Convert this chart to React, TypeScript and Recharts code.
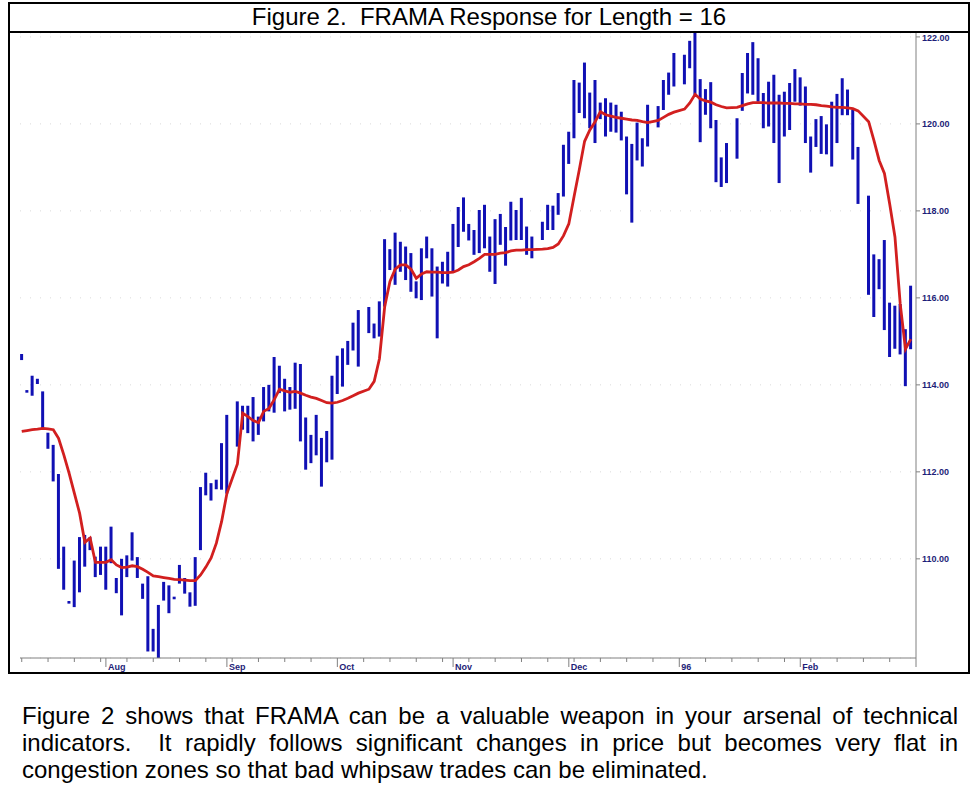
import { ComposedChart, Bar, Line, XAxis, YAxis, CartesianGrid } from "recharts"

// daily T-bond bars, Jul 10 1995 .. Feb 29 1996 (null = market holiday)
const highs = [
  114.71, 113.88, 114.21, 114.14, 113.85, 112.9, 112.62, 111.95, 110.28, 109.03,
  109.96, 110.5, 110.55, 110.5, 110.05, 110.28, 110.28, 110.74, 109.56, 110.0,
  110.08, 110.61, 110.04, 109.43, 109.6, 108.39, 108.94, 109.47, 109.39, 109.13,
  109.86, 109.56, 109.23, 110.04, 111.65, 111.98, 111.74, 111.82, 112.66, 113.31,
  null, 113.62, 113.52, 113.52, 113.72, 113.27, 113.95, 114.0, 114.64, 114.44,
  114.14, 113.95, 114.51, 114.48, 113.25, 112.85, 113.31, 112.78, 112.94, 114.21,
  114.67, 114.84, 115.01, 115.43, 115.72, null, 115.79, 115.41, 115.92, 117.35,
  117.12, 117.5, 117.29, 117.18, 117.03, 116.38, 117.14, 117.41, 117.14, 116.72,
  116.83, 117.06, 117.7, 118.09, 118.31, 117.7, 117.56, 118.02, 118.14, 117.41,
  117.81, 117.93, 117.63, 118.21, 118.02, 118.3, 117.64, 117.41, null, 117.75,
  118.14, 118.12, 118.41, 119.52, 119.82, 121.01, 120.95, 121.41, 120.72, 121.01,
  120.49, 120.59, 120.49, 120.44, 120.28, 119.71, 119.54, 120.03, 119.67, 120.44,
  null, 120.41, 121.01, 121.18, 121.63, null, 121.59, 121.91, 122.09, 121.03,
  120.8, 120.96, 120.09, 119.23, 119.56, null, 120.13, 121.17, 121.63, 121.88,
  121.51, 120.71, 120.97, 121.13, 120.67, 120.74, 120.94, 121.26, 121.07, 120.86,
  119.71, 120.11, 120.18, 119.99, 120.51, 120.69, 121.05, 120.79, 120.33, 119.47,
  null, 118.35, 117.0, 116.89, 117.33, 115.89, 115.82, 115.86, 115.28, 116.28,
]

const lows = [
  114.57, 113.82, 113.75, 114.02, 113.0, 112.53, 111.78, 109.77, 109.29, 108.97,
  108.89, 109.23, 109.82, 110.2, 109.58, 109.63, 109.29, 109.9, 109.21, 108.7,
  109.58, 109.96, 109.56, 109.08, 107.87, 107.87, 107.72, 109.04, 108.75, 109.07,
  109.43, 109.2, 108.9, 108.92, 110.2, 111.46, 111.34, 111.6, 111.59, 111.5,
  null, 112.58, 112.97, 112.89, 112.7, 112.85, 113.16, 113.39, 113.36, 113.81,
  113.39, 113.43, 113.45, 112.7, 112.05, 112.2, 112.38, 111.66, 112.22, 112.28,
  113.79, 113.96, 114.46, 114.79, 114.42, null, 115.19, 115.07, 115.11, 115.8,
  116.64, 116.3, 116.6, 116.41, 116.14, 115.99, 115.95, 116.91, 116.03, 115.07,
  116.33, 116.26, 116.6, 117.17, 117.52, 117.32, 116.99, 117.03, 117.14, 116.6,
  116.32, 117.22, 116.74, 117.32, 117.33, 117.33, 116.99, 116.91, null, 117.33,
  117.56, 117.56, 117.91, 118.33, 119.08, 119.67, 120.25, 120.13, 119.9, 119.56,
  120.11, 119.71, 119.82, 119.8, 119.62, 118.38, 117.73, 119.16, 119.02, 119.48,
  null, 119.92, 120.32, 120.67, 120.86, null, 120.91, 121.28, 120.67, 119.58,
  120.21, 119.9, 118.66, 118.55, 118.64, null, 119.2, 120.3, 120.7, 120.67,
  120.51, 119.9, 119.94, 119.56, 118.64, 119.71, 119.86, 120.51, 120.42, 119.56,
  118.88, 119.47, 119.31, 119.3, 119.02, 119.56, 120.2, 120.2, 119.18, 118.16,
  null, 116.07, 115.56, 116.2, 115.26, 114.64, 114.83, 114.7, 113.97, 114.82,
]

const frama = [
  112.93, 112.95, 112.97, 112.98, 113.0, 112.99, 112.97, 112.77, 112.39, 111.97,
  111.51, 111.05, 110.38, 110.48, 109.92, 109.92, 109.92, 109.98, 109.86, 109.8,
  109.81, 109.84, 109.82, 109.76, 109.69, 109.61, 109.59, 109.57, 109.55, 109.53,
  109.52, 109.51, 109.5, 109.5, 109.63, 109.81, 110.02, 110.36, 110.86, 111.5,
  null, 112.18, 113.35, 113.27, 113.18, 113.13, 113.39, 113.46, 113.66, 113.9,
  113.86, 113.83, 113.85, 113.81, 113.76, 113.72, 113.69, 113.64, 113.59, 113.58,
  113.6, 113.64, 113.69, 113.75, 113.81, null, 113.9, 114.08, 114.6, 115.8,
  116.38, 116.66, 116.76, 116.76, 116.66, 116.45, 116.55, 116.6, 116.59, 116.59,
  116.58, 116.58, 116.59, 116.64, 116.72, 116.76, 116.83, 116.91, 117.0, 117.0,
  117.0, 117.03, 117.04, 117.08, 117.1, 117.1, 117.11, 117.11, null, 117.12,
  117.13, 117.16, 117.24, 117.43, 117.7, 118.33, 118.95, 119.6, 119.86, 120.05,
  120.28, 120.21, 120.18, 120.15, 120.13, 120.11, 120.09, 120.08, 120.05, 120.03,
  null, 120.08, 120.15, 120.22, 120.27, null, 120.34, 120.48, 120.68, 120.57,
  120.53, 120.5, 120.44, 120.4, 120.37, null, 120.38, 120.42, 120.46, 120.49,
  120.49, 120.49, 120.48, 120.48, 120.48, 120.47, 120.47, 120.46, 120.46, 120.45,
  120.45, 120.44, 120.42, 120.41, 120.39, 120.38, 120.38, 120.37, 120.35, 120.3,
  null, 120.05, 119.62, 119.16, 118.86, 118.16, 117.4, 115.86, 114.82, 115.05,
]

const weekTicks = [
  0, 5, 10, 15, 20, 25, 30, 35, 40, 45, 50, 55, 60, 65, 70, 75, 80,
  85, 90, 95, 100, 105, 110, 115, 120, 125, 130, 135, 140, 145, 150, 155, 160, 165,
]
const monthStarts = [16, 39, 60, 82, 104, 125, 148, 170]
const monthLabels = ["Aug", "Sep", "Oct", "Nov", "Dec", "96", "Feb", ""]
const priceTicks = [110, 112, 114, 116, 118, 120, 122]

const data = highs.map((h, i) => ({
  day: i,
  range: h == null ? null : [lows[i], h],
  frama: frama[i],
}))

const allTicks = Array.from(new Set([...weekTicks, ...monthStarts])).sort((a, b) => a - b)
const axisGray = "#808080"
const labelBlue = "#1e1e78"
const font = "'Liberation Sans', Arial, sans-serif"

function DayTick(props: any) {
  const { x, y, payload } = props
  const m = monthStarts.indexOf(payload.value)
  const major = m >= 0
  return (
    <g>
      <line x1={x} y1={y} x2={x} y2={y + (major ? 9 : 4)} stroke={axisGray} strokeWidth={1} />
      {major && monthLabels[m] && (
        <text x={x + 2} y={y + 12} fontSize={9} fontWeight="bold" fill={labelBlue} fontFamily={font}>
          {monthLabels[m]}
        </text>
      )}
    </g>
  )
}

export default function App() {
  return (
    <div style={{ position: "absolute", left: 0, top: 0, width: 980, height: 788, background: "#fff" }}>
      <div
        style={{
          position: "absolute",
          left: 8,
          top: 2,
          width: 962,
          height: 672,
          border: "2px solid #000",
          boxSizing: "border-box",
        }}
      />
      <div
        style={{
          position: "absolute",
          left: 8,
          top: 3,
          width: 962,
          textAlign: "center",
          fontFamily: font,
          fontSize: 24,
          lineHeight: "28px",
        }}
      >
        Figure 2.&nbsp; FRAMA Response for Length = 16
      </div>
      <div style={{ position: "absolute", left: 8, top: 31, width: 962, height: 2, background: "#000" }} />

      <div style={{ position: "absolute", left: 10, top: 33 }}>
        <ComposedChart width={958} height={640} data={data} margin={{ top: 0, right: 0, bottom: 0, left: 10 }}>
          <CartesianGrid vertical={false} stroke="#dadada" strokeDasharray="1 9" />
          <XAxis
            dataKey="day"
            type="number"
            domain={[-0.33, 170]}
            ticks={allTicks}
            interval={0}
            height={15}
            tickSize={0}
            tickMargin={0}
            tick={<DayTick />}
            axisLine={{ stroke: axisGray }}
            allowDataOverflow
          />
          <YAxis
            orientation="right"
            width={52}
            domain={[107.72, 122.09]}
            ticks={priceTicks}
            allowDataOverflow
            tickFormatter={(v: number) => v.toFixed(2)}
            tickSize={4}
            tickMargin={2}
            axisLine={{ stroke: axisGray }}
            tickLine={{ stroke: axisGray }}
            tick={{ fontSize: 9, fontWeight: "bold", fill: labelBlue, fontFamily: font }}
          />
          <Bar dataKey="range" fill="#1010b4" barSize={3} isAnimationActive={false} />
          <Line
            dataKey="frama"
            type="linear"
            stroke="#d21f1f"
            strokeWidth={2.8}
            dot={false}
            connectNulls
            isAnimationActive={false}
          />
        </ComposedChart>
      </div>

      <div
        style={{
          position: "absolute",
          left: 22,
          top: 702,
          width: 936,
          fontFamily: font,
          fontSize: 24,
          lineHeight: "27px",
          color: "#000",
        }}
      >
        <div style={{ textAlign: "justify", textAlignLast: "justify" }}>
          Figure 2 shows that FRAMA can be a valuable weapon in your arsenal of technical
        </div>
        <div style={{ textAlign: "justify", textAlignLast: "justify" }}>
          indicators.&nbsp; It rapidly follows significant changes in price but becomes very flat in
        </div>
        <div>congestion zones so that bad whipsaw trades can be eliminated.</div>
      </div>
    </div>
  )
}
